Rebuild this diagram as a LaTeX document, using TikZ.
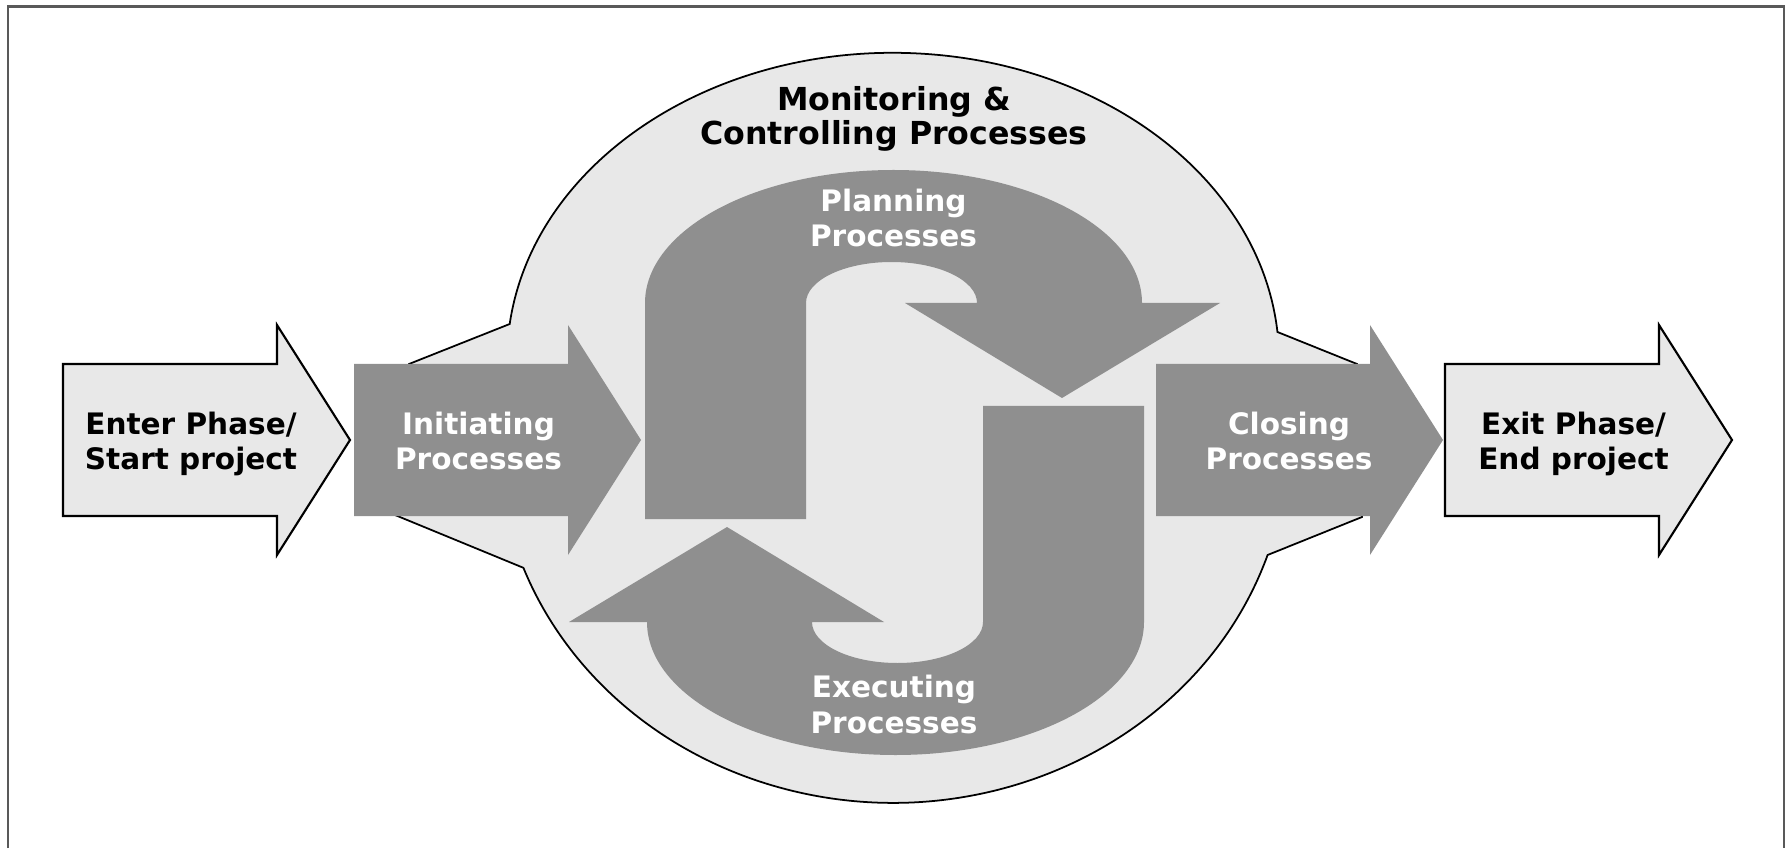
\documentclass[tikz,border=0pt]{standalone}
\usepackage{fontspec}
\setmainfont{DejaVu Sans}
\usepackage{tikz}
\definecolor{clight}{rgb}{0.91, 0.91, 0.91}
\definecolor{cdark}{rgb}{0.56, 0.56, 0.56}
\definecolor{cframe}{rgb}{0.35, 0.35, 0.35}

\begin{document}
\begin{tikzpicture}[x=0.01cm,y=0.01cm,
  light shape/.style={fill=clight,draw=black,line width=0.6pt},
  dark shape/.style={fill=cdark},
  light node/.style={align=center,inner sep=0pt,font=\fontsize{8.4}{10}\selectfont\bfseries},
  dark node/.style={light node,text=white}]
  \useasboundingbox (0,0) rectangle (1791,848);
  \draw[cframe,line width=0.7pt] (8,0) -- (8,841.5) -- (1784,841.5) -- (1784,0);
  % monitoring blob
  \path[light shape,line width=0.5pt] (409,484) -- (509.7,524)
    arc[start angle=173.3,end angle=5.2,x radius=386,y radius=307] -- (1357,484) -- (1362,331) -- (1267.6,293)
    arc[start angle=-18.5,end angle=-159.35,x radius=395,y radius=363] -- (395,333) -- cycle;
  % planning and executing
  \foreach \r in {0,180}
    \fill[dark shape,rotate around={\r:(894.5,385.5)}] (645,329) -- (645,545)
      arc[start angle=180,end angle=0,x radius=248.5,y radius=133] -- (1220,545) -- (1062,450) -- (905,545) -- (977,545)
      arc[start angle=0,end angle=180,x radius=85.5,y radius=41] -- (806,329) -- cycle;
  % phase arrows
  \foreach \x/\s in {63/light shape,354/dark shape,1156/dark shape,1445/light shape}
    \path[\s,shift={(\x,0)}] (0,332) -- (214,332) -- (214,293) -- (287,408) -- (214,523) -- (214,484) -- (0,484) -- cycle;

  \node[light node] (enter) at (191,404) {Enter Phase/\\Start project};
  \node[dark node] (init) at (478.5,407) {Initiating\\Processes};
  \node[dark node] (close) at (1289,407) {Closing\\Processes};
  \node[light node] (exit) at (1573.5,404) {Exit Phase/\\End project};
  \node[light node,font=\fontsize{9}{9.7}\selectfont\bfseries] (monitor) at (894,729) {Monitoring \&\\Controlling Processes};
  \node[dark node] (plan) at (893.5,630) {Planning\\Processes};
  \node[dark node] (exec) at (894,143.5) {Executing\\Processes};
\end{tikzpicture}
\end{document}
